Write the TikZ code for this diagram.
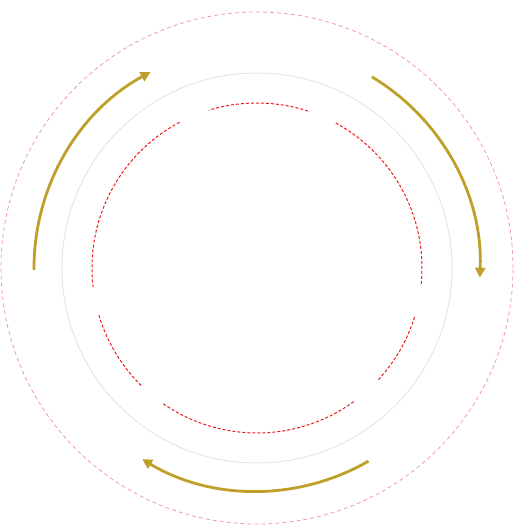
\documentclass[tikz,border=0pt]{standalone}
\usetikzlibrary{arrows.meta}
\definecolor{goldc}{HTML}{BF9F2A}
\definecolor{pinkc}{HTML}{F09CA4}
\definecolor{grayc}{HTML}{E6E6E6}
\definecolor{redc}{HTML}{F01818}
\begin{document}
\begin{tikzpicture}[x=1pt,y=1pt,
  outerring/.style={draw=pinkc,line width=0.8pt,dash pattern=on 4pt off 3pt},
  midring/.style={draw=grayc,line width=1pt},
  innerring/.style={draw=redc,line width=1pt,dash pattern=on 3pt off 2pt},
  cyclearrow/.style={draw=goldc,line width=2.8pt,-{Triangle[length=10pt,width=10pt]}}]
\useasboundingbox (-257,-257) rectangle (257,268);
\coordinate (c) at (0,0);
\draw[outerring] (c) circle[radius=256];
\draw[midring] (c) circle[radius=195];
% inner dashed ring, broken into six arcs
\foreach \a/\b in {-5.5/61.7, 72/107, 118/186.6, 196.6/225.7, 235.4/306.2, 317.4/343}{
  \draw[innerring] (c) ++(\a:165) arc[start angle=\a, end angle=\b, radius=165];
}
% gold cycle arrows
\draw[cyclearrow] (c) ++(180.5:223) arc[start angle=180.5, end angle=118.5, radius=223];
\draw[cyclearrow] (c) ++(59:223) arc[start angle=59, end angle=-2.5, radius=223];
\draw[cyclearrow] (c) ++(-60:223) arc[start angle=-60, end angle=-121, radius=223];
\end{tikzpicture}
\end{document}
